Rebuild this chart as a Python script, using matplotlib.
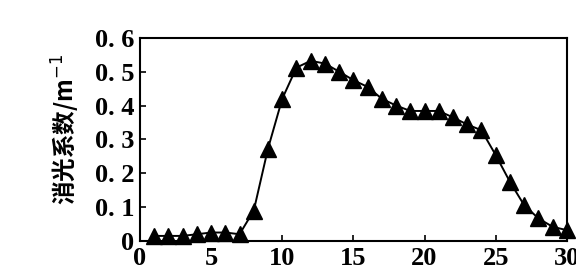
import matplotlib.pyplot as plt

# data
depth = list(range(1, 31))
extinction = [0.015, 0.015, 0.015, 0.02, 0.025, 0.025, 0.02, 0.09, 0.273, 0.42,
              0.512, 0.532, 0.524, 0.50, 0.475, 0.455, 0.42, 0.40, 0.384, 0.384,
              0.384, 0.365, 0.344, 0.327, 0.254, 0.175, 0.106, 0.067, 0.042, 0.032]
yticks = [0, 0.1, 0.2, 0.3, 0.4, 0.5, 0.6]
ytick_labels = ["0", "0. 1", "0. 2", "0. 3", "0. 4", "0. 5", "0. 6"]
xticks = [0, 5, 10, 15, 20, 25, 30]

fig = plt.figure(figsize=(5.76, 2.72), dpi=100)
ax = fig.add_axes([0.243, 0.114, 0.741, 0.747])

ax.plot(depth, extinction, color="black", linewidth=1.4, marker="^",
        markersize=11, markerfacecolor="black", markeredgecolor="black",
        clip_on=False, zorder=3)

ax.set_xlim(0, 30)
ax.set_ylim(0, 0.6)
ax.set_xticks(xticks)
ax.set_yticks(yticks)
ax.set_yticklabels(ytick_labels)

for lab in ax.get_xticklabels() + ax.get_yticklabels():
    lab.set_fontfamily("Liberation Serif")
    lab.set_fontsize(19)
    lab.set_fontweight("bold")

ax.tick_params(direction="in", length=4, width=1.2)
ax.tick_params(axis="x", pad=4)
ax.tick_params(axis="y", pad=4)
for sp in ax.spines.values():
    sp.set_linewidth(1.5)

ax.set_ylabel("消光系数/m$^{-1}$", family=["Noto Sans CJK SC", "DejaVu Sans"],
              fontsize=17, fontweight="bold")
ax.yaxis.set_label_coords(-0.135, 0.55)

fig.savefig("out.png", dpi=100)
